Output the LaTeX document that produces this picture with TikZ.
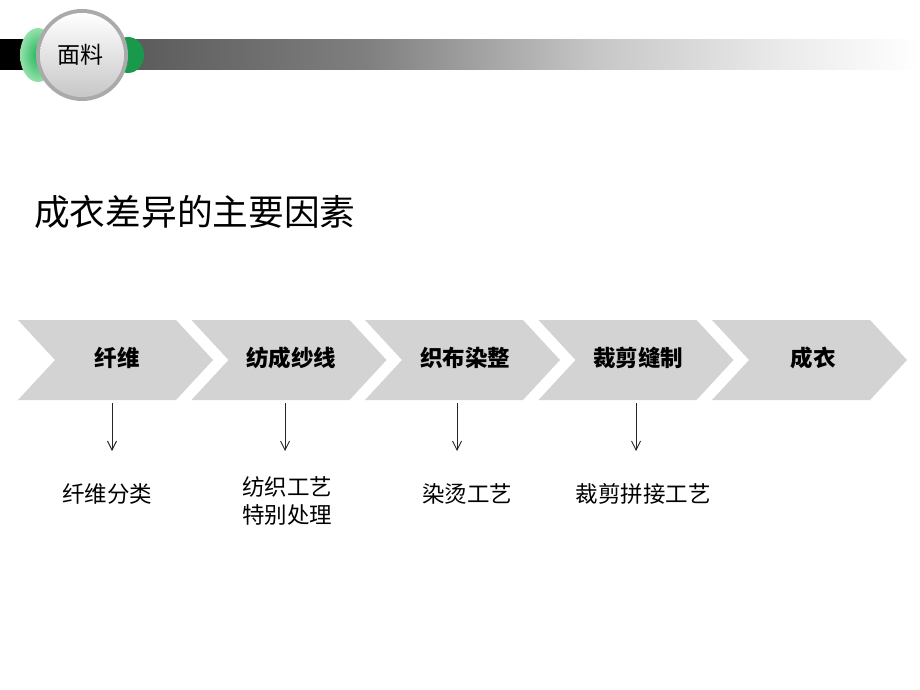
\documentclass[tikz,border=0pt]{standalone}
\usepackage{fontspec}
\setmainfont{Noto Sans CJK SC}
\usetikzlibrary{arrows.meta}
\definecolor{chev}{RGB}{211,211,211}
\definecolor{grnA}{RGB}{30,180,90}
\definecolor{grnB}{RGB}{150,225,170}
\definecolor{rim}{RGB}{170,170,170}
\pgfdeclarehorizontalshading{barshade}{100bp}{color(0bp)=(black); color(25bp)=(black); color(26bp)=(black); color(32.5bp)=(black!64); color(45bp)=(black!50); color(57.5bp)=(black!22); color(67.5bp)=(black!8); color(75bp)=(white); color(100bp)=(white)}
\tikzset{
  chevlabel/.style={font=\fontsize{22.5}{26}\selectfont\bfseries, text=black},
  sublabel/.style={font=\fontsize{22.5}{28}\selectfont, text=black, align=center},
  downarrow/.style={draw=black!85, line width=0.9pt, -{Straight Barb[length=9pt,width=9pt]}}
}
\newcommand{\chevpath}[1]{(#1,320) -- ++(158,0) -- ++(37,40) -- ++(-37,40) -- ++(-158,0) -- ++(37,-40) -- cycle}
\begin{document}
\begin{tikzpicture}[x=1pt,y=-1pt]
\useasboundingbox[fill=white] (0,0) rectangle (920,690);
% header bar
\shade[shading=barshade] (0,40) rectangle (920,70);
% green lenses
\shade[inner color=grnA, outer color=grnB] (38,55) ellipse[x radius=18, y radius=27];
\fill[grnA!85!black] (128,55) ellipse[x radius=16, y radius=18];
% button circle
\fill[rim] (82,55) circle[radius=46];
\shade[top color=white, bottom color=black!22] (82,55) circle[radius=42];
\node (hdr) at (80,55) {\fontsize{23}{26}\selectfont 面料};
% title
\node[anchor=west, inner sep=0pt] (title) at (34,212) {\fontsize{35.7}{40}\selectfont 成衣差异的主要因素};
% chevrons
\fill[chev] \chevpath{18};
\fill[chev] \chevpath{191.5};
\fill[chev] \chevpath{365};
\fill[chev] \chevpath{538.5};
\fill[chev] \chevpath{712};
\node[chevlabel] (c1) at (117,358) {纤维};
\node[chevlabel] (c2) at (291,358) {纺成纱线};
\node[chevlabel] (c3) at (465,358) {织布染整};
\node[chevlabel] (c4) at (638,358) {裁剪缝制};
\node[chevlabel] (c5) at (813,358) {成衣};
% arrows
\coordinate (s1) at (112,403); \coordinate (e1) at (112,451);
\coordinate (s2) at (285,403); \coordinate (e2) at (285,451);
\coordinate (s3) at (457,403); \coordinate (e3) at (457,451);
\coordinate (s4) at (636,403); \coordinate (e4) at (636,451);
\draw[downarrow] (s1) -- (e1);
\draw[downarrow] (s2) -- (e2);
\draw[downarrow] (s3) -- (e3);
\draw[downarrow] (s4) -- (e4);
% sub labels
\node[sublabel] (l1) at (107,494) {纤维分类};
\node[sublabel] (l2) at (287,501) {纺织工艺\\特别处理};
\node[sublabel] (l3) at (467,494) {染烫工艺};
\node[sublabel] (l4) at (643,494) {裁剪拼接工艺};
\end{tikzpicture}
\end{document}
